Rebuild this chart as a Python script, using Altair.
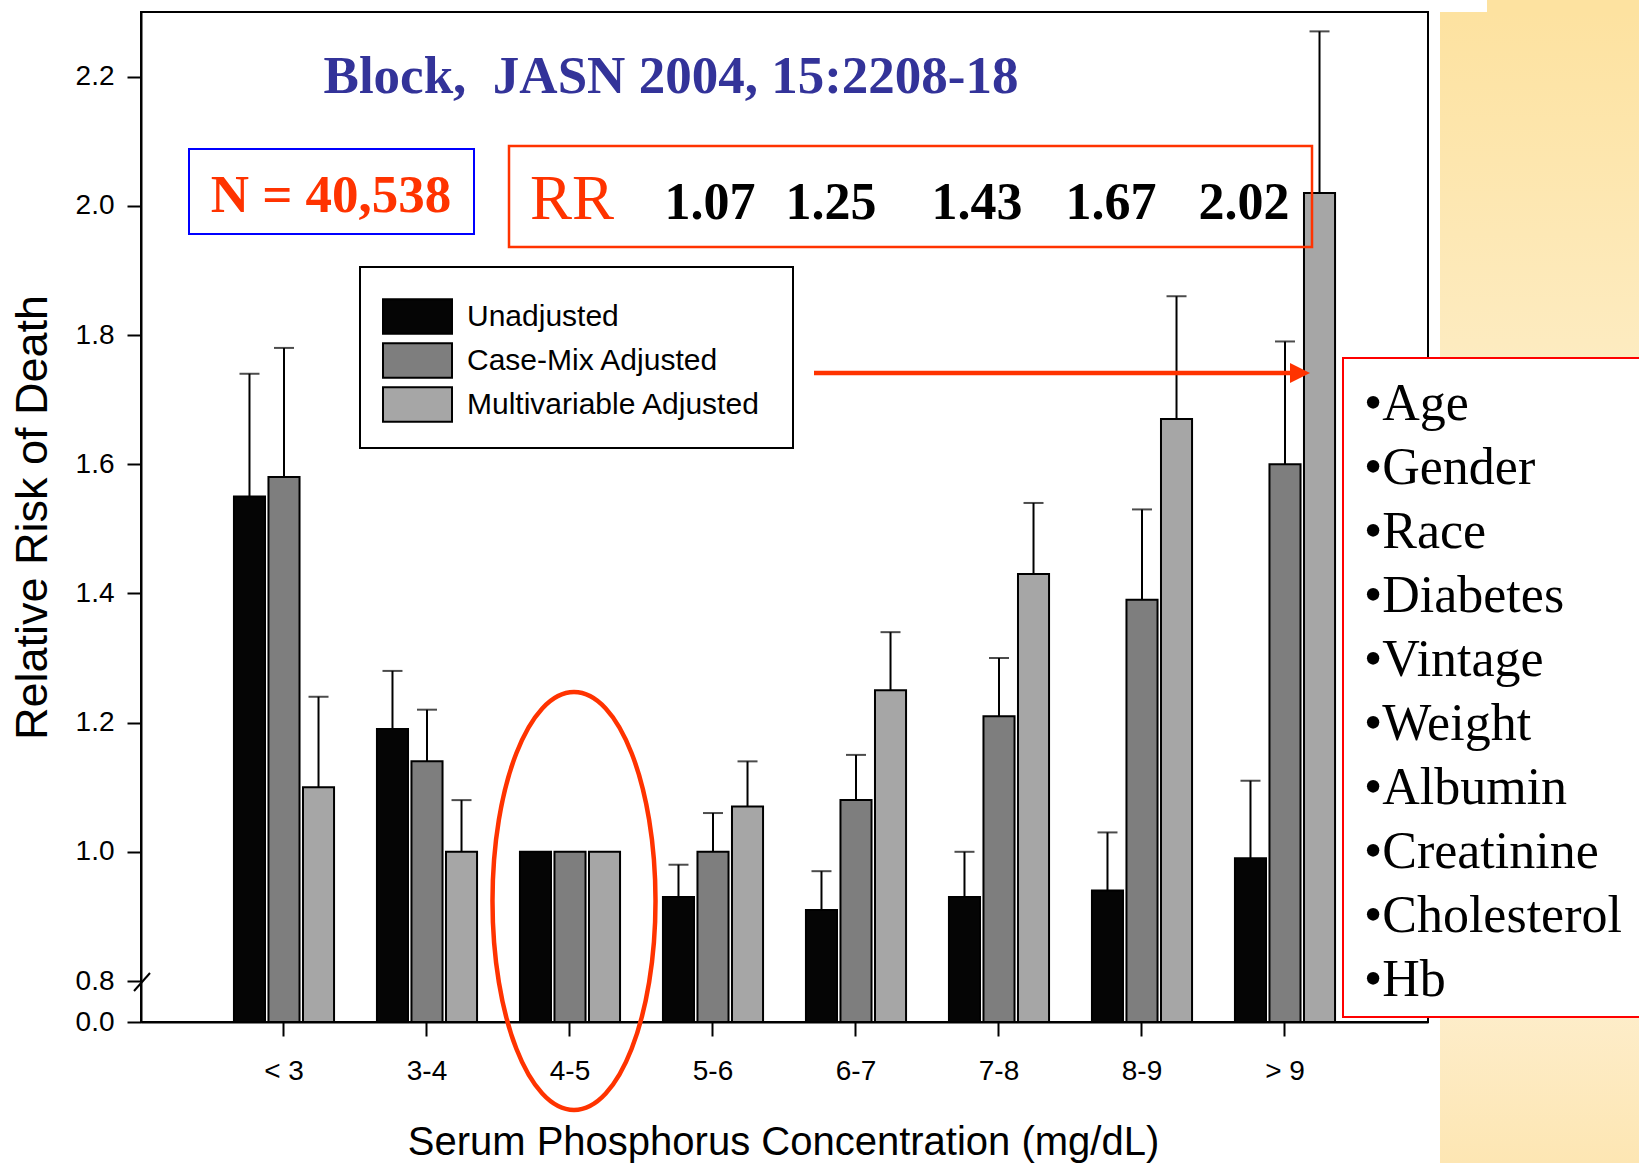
import altair as alt
import pandas as pd

# ---- data -------------------------------------------------------------
categories = ["< 3", "3-4", "4-5", "5-6", "6-7", "7-8", "8-9", "> 9"]
series = ["Unadjusted", "Case-Mix Adjusted", "Multivariable Adjusted"]
series_colors = ["#050505", "#7e7e7e", "#a6a6a6"]

unadjusted = [1.55, 1.19, 1.00, 0.93, 0.91, 0.93, 0.94, 0.99]
unadjusted_upper = [1.74, 1.28, None, 0.98, 0.97, 1.00, 1.03, 1.11]
case_mix = [1.58, 1.14, 1.00, 1.00, 1.08, 1.21, 1.39, 1.60]
case_mix_upper = [1.78, 1.22, None, 1.06, 1.15, 1.30, 1.53, 1.79]
multivariable = [1.10, 1.00, 1.00, 1.07, 1.25, 1.43, 1.67, 2.02]
multivariable_upper = [1.24, 1.08, None, 1.14, 1.34, 1.54, 1.86, 2.27]

y_ticks = [0.0, 0.8, 1.0, 1.2, 1.4, 1.6, 1.8, 2.0, 2.2]
adjusters = ["Age", "Gender", "Race", "Diabetes", "Vintage", "Weight",
             "Albumin", "Creatinine", "Cholesterol", "Hb"]
sample_size = "40,538"
citation = "Block,\u00a0 JASN 2004, 15:2208-18"
# relative risks quoted in the RR box (multivariable, 5-6 through > 9)
rr_labels = [f"{v:.2f}" for v in multivariable[3:]]

rows, err_rows = [], []
for vals, ups, name in [(unadjusted, unadjusted_upper, series[0]),
                        (case_mix, case_mix_upper, series[1]),
                        (multivariable, multivariable_upper, series[2])]:
    for cat, v, u in zip(categories, vals, ups):
        rows.append({"category": cat, "series": name, "value": v})
        if u is not None:
            err_rows.append({"category": cat, "series": name, "value": v, "upper": u})
bars_df = pd.DataFrame(rows)
err_df = pd.DataFrame(err_rows)

# ---- layout (plot-area pixels) ---------------------------------------
W, H = 1287, 1010
SANS = "Liberation Sans"
SERIF = "Liberation Serif"
RED = "#ff3300"

x_enc = alt.X(
    "category:N", sort=categories,
    scale=alt.Scale(paddingInner=0.3, paddingOuter=0.65),
    axis=alt.Axis(
        title="Serum Phosphorus Concentration (mg/dL)", labelAngle=0,
        labelFontSize=28, labelPadding=21, tickSize=14,
        titleFontSize=40, titleX=642, titleY=132,
        titleAlign="center", titleBaseline="alphabetic",
    ),
)
x_off = alt.XOffset("series:N", sort=series,
                    scale=alt.Scale(paddingInner=0.1, paddingOuter=0))
y_scale = alt.Scale(domain=[0, 0.8, 2.3], range=[H, H - 41, 0], nice=False)
y_enc = alt.Y(
    "value:Q", scale=y_scale,
    axis=alt.Axis(
        values=y_ticks, format=".1f", title="Relative Risk of Death",
        labelFontSize=28, labelPadding=13, tickSize=14, labelOverlap=False,
        titleFontSize=45, titleAngle=-90, titleX=-95, titleY=505,
        titleAlign="center", titleBaseline="alphabetic",
    ),
)

bars = alt.Chart(bars_df).mark_bar(stroke="black", strokeWidth=2).encode(
    x=x_enc, xOffset=x_off, y=y_enc,
    color=alt.Color(
        "series:N", sort=series,
        scale=alt.Scale(domain=series, range=series_colors),
        legend=alt.Legend(
            title=None, orient="none", legendX=258, legendY=286,
            symbolType="M-2,-1H2V1H-2Z", symbolSize=1190,
            symbolStrokeColor="black", symbolStrokeWidth=2,
            labelFont=SANS, labelFontSize=30, labelColor="black",
            labelOffset=31, labelLimit=500, rowPadding=1, padding=0,
        ),
    ),
)

whiskers = alt.Chart(err_df).mark_rule(color="black", strokeWidth=2).encode(
    x=alt.X("category:N", sort=categories), xOffset=x_off,
    y=alt.Y("value:Q", scale=y_scale), y2="upper:Q",
)
caps = alt.Chart(err_df).mark_tick(color="black", thickness=2, size=20).encode(
    x=alt.X("category:N", sort=categories), xOffset=x_off,
    y=alt.Y("upper:Q", scale=y_scale),
)


def anchor():
    return alt.Chart(pd.DataFrame({"k": [0]}))


def rect(x0, y0, x1, y1, **style):
    return anchor().mark_rect(**style).encode(
        x=alt.value(x0), x2=alt.value(x1), y=alt.value(y0), y2=alt.value(y1))


def text(t, x, y, **style):
    return anchor().mark_text(text=t, **style).encode(x=alt.value(x), y=alt.value(y))


backdrop = alt.LinearGradient(
    gradient="linear", x1=0, x2=0, y1=0, y2=1,
    stops=[alt.GradientStop(color="#fde2a0", offset=0),
           alt.GradientStop(color="#fdedc6", offset=0.35),
           alt.GradientStop(color="#fef6e6", offset=0.7),
           alt.GradientStop(color="#fde6b3", offset=1)],
)

layers = [
    rect(1299, 0, 1500, 1152, fill=backdrop),
    rect(1346, -13, 1500, 1, fill="#fde2a0"),
    bars, whiskers, caps,
    # legend frame
    rect(219, 255, 652, 436, fillOpacity=0, stroke="black", strokeWidth=2),
    # axis break mark
    anchor().mark_rule(color="black", strokeWidth=2).encode(
        x=alt.value(-7), y=alt.value(H - 31), x2=alt.value(9), y2=alt.value(H - 49)),
    text(citation, 530, 81, font=SERIF, fontSize=53, fontWeight="bold",
         color="#333399", align="center", baseline="alphabetic"),
    rect(48, 137, 333, 222, fillOpacity=0, stroke="#0000ff", strokeWidth=2),
    text(f"N = {sample_size}", 190, 200, font=SERIF, fontSize=53, fontWeight="bold",
         color=RED, align="center", baseline="alphabetic"),
    rect(368, 134, 1171, 235, fillOpacity=0, stroke=RED, strokeWidth=2.5),
    text("RR", 431, 207, font=SERIF, fontSize=63, color=RED,
         align="center", baseline="alphabetic"),
]
for lbl, cx in zip(rr_labels, [569, 690, 836, 970, 1103]):
    layers.append(text(lbl, cx, 207, font=SERIF, fontSize=52, fontWeight="bold",
                       color="black", align="center", baseline="alphabetic"))

layers += [
    # arrow towards the adjustment list
    anchor().mark_rule(color=RED, strokeWidth=4.5).encode(
        x=alt.value(673), x2=alt.value(1152), y=alt.value(361), y2=alt.value(361)),
    anchor().mark_point(shape="M-1,-1L1,0L-1,1Z", size=400, filled=True,
                        color=RED, opacity=1, strokeWidth=0).encode(
        x=alt.value(1159), y=alt.value(361)),
    # reference group highlight
    anchor().mark_point(shape="M0,-1A0.39,1,0,1,1,0,1A0.39,1,0,1,1,0,-1Z",
                        size=174724, filled=False, color=RED, opacity=1,
                        strokeWidth=4.5).encode(x=alt.value(433), y=alt.value(889)),
    # adjustment variables
    rect(1202, 346, 1520, 1005, fill="white", stroke="#ff0000", strokeWidth=2),
    text(["\u2022" + a for a in adjusters], 1223, 408, font=SERIF, fontSize=52,
         color="black", align="left", baseline="alphabetic", lineHeight=64),
]

chart = alt.layer(*layers).properties(
    width=W, height=H,
    autosize=alt.AutoSizeParams(type="none"),
    padding={"left": 141, "top": 12, "right": 211, "bottom": 141},
    background="white",
).configure_view(
    stroke="black", strokeWidth=2,
).configure_axis(
    labelFont=SANS, titleFont=SANS, labelColor="black", titleColor="black",
    titleFontWeight="normal", tickColor="black", tickWidth=2,
    domainColor="black", domainWidth=2, grid=False,
)

chart.save("out.html", embed_options={"renderer": "svg", "actions": False})
